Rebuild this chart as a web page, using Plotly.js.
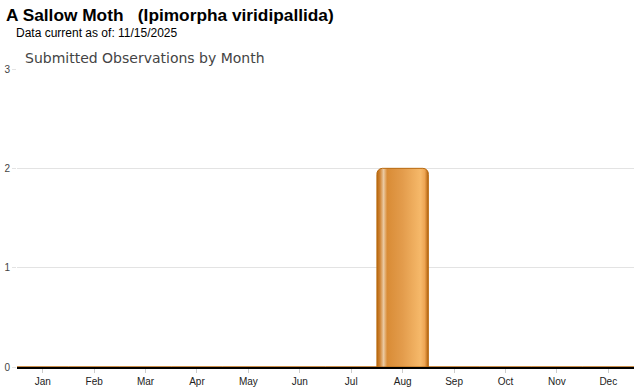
<!DOCTYPE html>
<html>
<head>
<meta charset="utf-8">
<script src="https://cdn.plot.ly/plotly-3.0.1.min.js"></script>
<style>
  html, body { margin: 0; padding: 0; background: #fff; }
  #chart { width: 640px; height: 390px; }
</style>
</head>
<body>
<div id="chart"></div>
<script>
const months = ['Jan','Feb','Mar','Apr','May','Jun','Jul','Aug','Sep','Oct','Nov','Dec'];
const observations = [0,0,0,0,0,0,0,2,0,0,0,0];
const yTicks = [0,1,2,3];

const trace = {
  type: 'bar',
  x: months,
  y: observations,
  marker: { color: '#e39a48', line: { color: '#b8690f', width: 1 } },
  hoverinfo: 'x+y'
};

const layout = {
  width: 640, height: 390,
  margin: { l: 17, r: 6, t: 69, b: 23 },
  paper_bgcolor: '#ffffff', plot_bgcolor: '#ffffff',
  bargap: 0,
  barcornerradius: 6,
  showlegend: false,
  font: { family: 'Arial, Liberation Sans, sans-serif', color: '#222' },
  xaxis: {
    type: 'category',
    categoryorder: 'array', categoryarray: months,
    showgrid: false, zeroline: false,
    showline: true, linecolor: '#000', linewidth: 2,
    ticks: 'outside', ticklen: 4, tickcolor: '#ccc', tickwidth: 1,
    tickfont: { size: 10, color: '#222' },
    fixedrange: true
  },
  yaxis: {
    range: [0, 3],
    tickvals: yTicks, ticktext: yTicks.map(String),
    showgrid: true, gridcolor: '#e3e3e3', gridwidth: 1,
    zeroline: false, showline: false,
    ticks: 'outside', ticklen: 4, tickcolor: '#e3e3e3',
    tickfont: { size: 10, color: '#444' },
    fixedrange: true
  },
  annotations: [
    { text: '<b>A Sallow Moth   (Ipimorpha viridipallida)</b>', xref: 'paper', yref: 'paper',
      x: -13/617, y: 1, xanchor: 'left', yanchor: 'bottom', yshift: 42, showarrow: false,
      font: { size: 17.3, color: '#000', family: 'Arial, Liberation Sans, sans-serif' } },
    { text: 'Data current as of: 11/15/2025', xref: 'paper', yref: 'paper',
      x: -3/617, y: 1, xanchor: 'left', yanchor: 'bottom', yshift: 27, showarrow: false,
      font: { size: 12, color: '#000', family: 'Arial, Liberation Sans, sans-serif' } },
    { text: 'Submitted Observations by Month', xref: 'paper', yref: 'paper',
      x: 6/617, y: 1, xanchor: 'left', yanchor: 'bottom', yshift: 1, showarrow: false,
      font: { size: 14, color: '#444', family: 'DejaVu Sans, sans-serif' } }
  ]
};

Plotly.newPlot('chart', [trace], layout, { displayModeBar: false, staticPlot: true }).then(function (gd) {
  const svg = gd.querySelector('svg.main-svg');
  const NS = 'http://www.w3.org/2000/svg';
  let defs = svg.querySelector('defs');
  if (!defs) { defs = document.createElementNS(NS, 'defs'); svg.insertBefore(defs, svg.firstChild); }
  const grad = document.createElementNS(NS, 'linearGradient');
  grad.setAttribute('id', 'barGrad');
  grad.setAttribute('x1', '0'); grad.setAttribute('y1', '0');
  grad.setAttribute('x2', '1'); grad.setAttribute('y2', '0');
  const stops = [
    [0, '#b8680f'], [0.06, '#cf8434'], [0.13, '#ebcaa2'], [0.2, '#d98c36'],
    [0.5, '#e39c4c'], [0.85, '#f6b96a'], [0.93, '#eea552'], [1, '#b0600c']
  ];
  stops.forEach(function (s) {
    const st = document.createElementNS(NS, 'stop');
    st.setAttribute('offset', s[0]);
    st.setAttribute('stop-color', s[1]);
    grad.appendChild(st);
  });
  defs.appendChild(grad);
  gd.querySelectorAll('.bars .point path').forEach(function (p) {
    p.style.fill = 'url(#barGrad)';
  });
});
</script>
</body>
</html>
